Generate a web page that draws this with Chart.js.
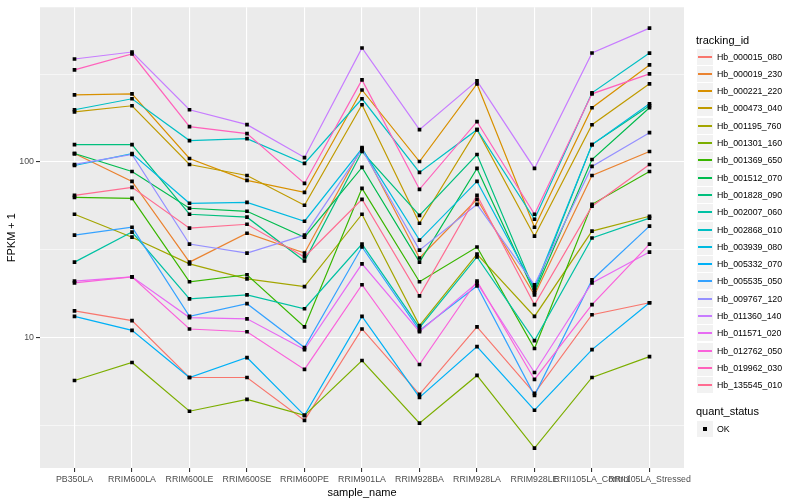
<!DOCTYPE html>
<html>
<head>
<meta charset="utf-8">
<title>FPKM by sample</title>
<script src="https://cdn.jsdelivr.net/npm/chart.js@4.4.1/dist/chart.umd.min.js"></script>
<style>
html,body{margin:0;padding:0;background:#ffffff;}
#wrap{position:relative;width:800px;height:500px;font-family:"Liberation Sans",Arial,sans-serif;}
#chartGenes{position:absolute;left:0;top:0;}
.legTitle{position:absolute;left:696px;font-size:11px;line-height:13px;color:#000;white-space:nowrap;}
.legKey{position:absolute;left:697px;width:16px;height:16px;background:#F2F2F2;}
.legKey span{position:absolute;left:1px;width:14px;top:7px;height:2px;}
.legKey b{position:absolute;left:6px;top:6px;width:4px;height:4px;background:#000;}
.legText{position:absolute;left:717px;font-size:8.8px;line-height:16px;color:#000;white-space:nowrap;}
</style>
</head>
<body>
<div id="wrap">
    <canvas id="chartGenes" width="800" height="500"></canvas>
    <div id="legend"></div>
</div>
<script>

/*
==========================================
DATA  (values are FPKM + 1)
==========================================
*/

const sampleNames = [
    "PB350LA","RRIM600LA","RRIM600LE","RRIM600SE","RRIM600PE",
    "RRIM901LA","RRIM928BA","RRIM928LA","RRIM928LE",
    "RRII105LA_Control","RRII105LA_Stressed"
];

const trackingIds = [
    "Hb_000015_080","Hb_000019_230","Hb_000221_220","Hb_000473_040",
    "Hb_001195_760","Hb_001301_160","Hb_001369_650","Hb_001512_070",
    "Hb_001828_090","Hb_002007_060","Hb_002868_010","Hb_003939_080",
    "Hb_005332_070","Hb_005535_050","Hb_009767_120","Hb_011360_140",
    "Hb_011571_020","Hb_012762_050","Hb_019962_030","Hb_135545_010"
];

const hb_000015_080 = [14.2, 12.5, 5.93, 5.93, 3.38, 11.2, 4.75, 11.5, 4.82, 13.5, 15.8];
const hb_000019_230 = [111.7, 77.5, 26.9, 39.3, 30.3, 120.8, 28.4, 61.3, 17.5, 83.8, 114.7];
const hb_000221_220 = [241, 244, 104.7, 78.6, 67.2, 257, 100.6, 278, 42.5, 203.6, 357];
const hb_000473_040 = [193, 209, 96.8, 83.8, 56.7, 211.8, 44.8, 152.8, 37.8, 163, 278.5];
const hb_001195_760 = [50.4, 37.3, 26.3, 21.6, 19.5, 50.4, 11.7, 29.9, 13.2, 40.4, 49.1];
const hb_001301_160 = [5.70, 7.22, 3.81, 4.45, 3.61, 7.41, 3.26, 6.09, 2.35, 5.93, 7.80];
const hb_001369_650 = [62.9, 62.1, 20.8, 22.8, 11.5, 70.8, 20.8, 32.8, 8.67, 57.4, 88.3];
const hb_001512_070 = [111.7, 88.3, 54.5, 52.4, 37.3, 93.1, 26.9, 91.9, 18.0, 103.3, 203.6];
const hb_001828_090 = [125.6, 125.6, 50.4, 48.5, 27.3, 114.7, 49.7, 110.3, 18.5, 125.6, 209];
const hb_002007_060 = [26.9, 39.9, 16.6, 17.5, 14.6, 34.1, 11.4, 28.8, 9.62, 36.9, 47.9];
const hb_002868_010 = [198.4, 229, 132.4, 135.9, 98.1, 229, 87.2, 152.8, 47.2, 247.6, 417];
const hb_003939_080 = [95.5, 111.7, 58.2, 58.9, 46.0, 119.2, 35.9, 77.5, 19.2, 125.6, 214.5];
const hb_005332_070 = [13.2, 11.0, 5.93, 7.70, 3.61, 13.2, 4.57, 8.89, 3.86, 8.55, 15.8];
const hb_005535_050 = [38.3, 42.5, 13.2, 15.6, 8.78, 32.8, 11.0, 19.7, 4.69, 21.3, 43.1];
const hb_009767_120 = [96.8, 110.3, 34.1, 30.3, 38.3, 117.7, 31.5, 57.4, 20.0, 94.3, 146.9];
const hb_011360_140 = [385.8, 422.8, 198.4, 163.1, 106, 445.5, 152.8, 289.6, 91.9, 417.3, 578];
const hb_011571_020 = [21.0, 22.2, 13.0, 12.8, 8.55, 26.3, 10.8, 20.5, 6.33, 20.5, 30.7];
const hb_012762_050 = [20.5, 22.2, 11.2, 10.8, 6.59, 20.0, 7.03, 21.0, 5.78, 15.4, 34.1];
const hb_019962_030 = [334.3, 411.9, 158.9, 145, 75.5, 293.4, 69.9, 169.6, 50.4, 244.4, 317.3];
const hb_135545_010 = [64.6, 71.7, 42.0, 44.2, 28.8, 61.3, 17.3, 64.6, 15.4, 56.0, 96.8];

const seriesValues = [
    hb_000015_080, hb_000019_230, hb_000221_220, hb_000473_040,
    hb_001195_760, hb_001301_160, hb_001369_650, hb_001512_070,
    hb_001828_090, hb_002007_060, hb_002868_010, hb_003939_080,
    hb_005332_070, hb_005535_050, hb_009767_120, hb_011360_140,
    hb_011571_020, hb_012762_050, hb_019962_030, hb_135545_010
];

const quantStatus = ["OK"];

const yMajorTicks = [10, 100];
const yMinorTicks = [3.1623, 31.623, 316.23];

/*
==========================================
STYLE
==========================================
*/

const hueColors = [
    "#F8766D","#EA8331","#D89000","#C09B00","#A3A500",
    "#7CAE00","#39B600","#00BB4E","#00BF7D","#00C1A3",
    "#00BFC4","#00BAE0","#00B0F6","#35A2FF","#9590FF",
    "#C77CFF","#E76BF3","#FA62DB","#FF62BC","#FF6C91"
];

const FONT = "'Liberation Sans', Arial, sans-serif";

/*
==========================================
PANEL BACKGROUND
==========================================
*/

const panelBackground = {
    id:"panelBackground",
    beforeDraw(chart){
        const {ctx, chartArea} = chart;
        ctx.save();
        ctx.fillStyle = "#EBEBEB";
        ctx.fillRect(
            chartArea.left,
            chartArea.top,
            chartArea.right - chartArea.left,
            chartArea.bottom - chartArea.top
        );
        ctx.restore();
    }
};

function isMajor(v){
    return yMajorTicks.some(t => Math.abs(t - v) < 1e-6);
}

/*
==========================================
DATASETS
==========================================
*/

function buildDatasets(){

    const lines = seriesValues.map((values, s) => ({
        label:trackingIds[s],
        data:values.map((v, i) => ({x:i, y:v})),
        borderColor:hueColors[s],
        backgroundColor:hueColors[s],
        borderWidth:1.2,
        pointRadius:0,
        tension:0,
        order:-s
    }));

    const points = [];
    seriesValues.forEach(values => {
        values.forEach((v, i) => points.push({x:i, y:v}));
    });

    lines.push({
        label:quantStatus[0],
        data:points,
        showLine:false,
        pointStyle:"rect",
        pointRadius:2.6,
        pointBackgroundColor:"#000000",
        pointBorderWidth:0,
        order:-100
    });

    return lines;
}

/*
==========================================
CHART
==========================================
*/

function renderChart(){

    const canvas = document.getElementById("chartGenes");

    new Chart(canvas, {
        type:"line",
        data:{ datasets:buildDatasets() },
        plugins:[panelBackground],
        options:{
            responsive:false,
            animation:false,
            layout:{ padding:{ top:5, right:116, left:0, bottom:0 } },
            plugins:{
                legend:{ display:false },
                tooltip:{ enabled:false }
            },
            scales:{
                x:{
                    type:"linear",
                    min:-0.6,
                    max:sampleNames.length - 0.4,
                    afterBuildTicks:(scale) => {
                        scale.ticks = sampleNames.map((_, i) => ({value:i}));
                    },
                    afterFit:(scale) => { scale.height = 32; },
                    border:{ display:false },
                    grid:{
                        color:"#FFFFFF",
                        lineWidth:1.1,
                        tickColor:"#333333",
                        tickLength:4,
                        tickWidth:1.1
                    },
                    ticks:{
                        autoSkip:false,
                        maxRotation:0,
                        minRotation:0,
                        padding:2,
                        color:"#4D4D4D",
                        font:{ family:FONT, size:8.8 },
                        callback:(v) => sampleNames[v] ?? ""
                    },
                    title:{
                        display:true,
                        text:"sample_name",
                        color:"#000000",
                        padding:{ top:5.4, bottom:0 },
                        font:{ family:FONT, size:11 }
                    }
                },
                y:{
                    type:"logarithmic",
                    min:1.81,
                    max:760,
                    afterBuildTicks:(scale) => {
                        scale.ticks = yMinorTicks.concat(yMajorTicks)
                            .sort((a, b) => a - b)
                            .map(v => ({value:v}));
                    },
                    afterFit:(scale) => { scale.width = 40; },
                    border:{ display:false },
                    grid:{
                        color:"#FFFFFF",
                        lineWidth:(ctx) => ctx.tick && isMajor(ctx.tick.value) ? 1.1 : 0.55,
                        tickColor:(ctx) => ctx.tick && isMajor(ctx.tick.value) ? "#333333" : "rgba(0,0,0,0)",
                        tickLength:4,
                        tickWidth:1.1
                    },
                    ticks:{
                        padding:2,
                        color:"#4D4D4D",
                        font:{ family:FONT, size:8.8 },
                        callback:(v) => isMajor(v) ? String(Math.round(v)) : ""
                    },
                    title:{
                        display:true,
                        text:"FPKM + 1",
                        color:"#000000",
                        padding:{ top:5.4, bottom:0 },
                        font:{ family:FONT, size:11 }
                    }
                }
            }
        }
    });
}

/*
==========================================
LEGEND
==========================================
*/

function renderLegend(){

    const box = document.getElementById("legend");
    let html = '<div class="legTitle" style="top:34px">tracking_id</div>';

    trackingIds.forEach((id, i) => {
        const top = Math.round(48.5 + i * 17.3);
        html += '<div class="legKey" style="top:' + top + 'px"><span style="background:' + hueColors[i] + '"></span></div>';
        html += '<div class="legText" style="top:' + top + 'px">' + id + '</div>';
    });

    html += '<div class="legTitle" style="top:405px">quant_status</div>';
    html += '<div class="legKey" style="top:421px"><b></b></div>';
    html += '<div class="legText" style="top:421px">' + quantStatus[0] + '</div>';

    box.innerHTML = html;
}

renderChart();
renderLegend();

</script>
</body>
</html>
